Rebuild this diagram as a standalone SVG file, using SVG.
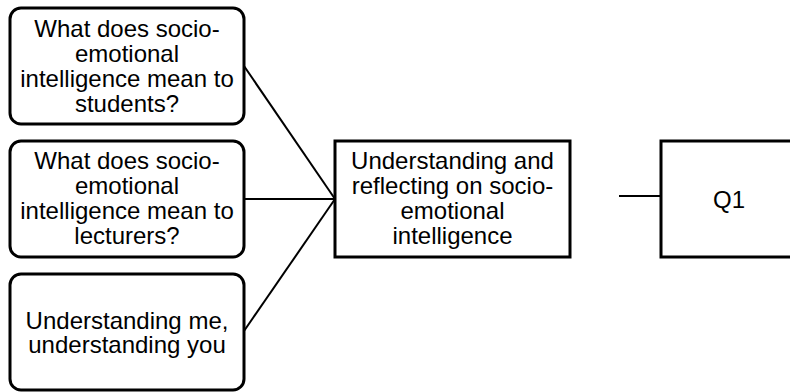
<svg xmlns="http://www.w3.org/2000/svg" width="790" height="392" viewBox="0 0 790 392">
<style>
.box{fill:#ffffff;stroke:#000000;stroke-width:3}
.conn{fill:none;stroke:#000000;stroke-width:2}
.lbl{font-family:"Liberation Sans",Arial,sans-serif;font-size:24px;fill:#000000;text-anchor:middle}
</style>
<rect width="790" height="392" fill="#ffffff"/>
<g id="connectors">
<line class="conn" x1="244" y1="66" x2="335" y2="199"/>
<line class="conn" x1="244" y1="199" x2="335" y2="199"/>
<line class="conn" x1="244" y1="331" x2="335" y2="199"/>
<line class="conn" x1="619" y1="196" x2="661" y2="196"/>
</g>
<g id="n1">
<rect class="box" x="10" y="8" width="234" height="116" rx="11" ry="11"/>
<text class="lbl"><tspan x="127" y="37">What does socio-</tspan><tspan x="127" y="61.9">emotional</tspan><tspan x="127" y="86.8">intelligence mean to</tspan><tspan x="127" y="111.7">students?</tspan></text>
</g>
<g id="n2">
<rect class="box" x="10" y="141" width="234" height="116" rx="11" ry="11"/>
<text class="lbl"><tspan x="127" y="168.8">What does socio-</tspan><tspan x="127" y="193.7">emotional</tspan><tspan x="127" y="218.6">intelligence mean to</tspan><tspan x="127" y="243.5">lecturers?</tspan></text>
</g>
<g id="n3">
<rect class="box" x="10" y="274" width="234" height="116" rx="11" ry="11"/>
<text class="lbl"><tspan x="127" y="328.5">Understanding me,</tspan><tspan x="127" y="353.4">understanding you</tspan></text>
</g>
<g id="n4">
<rect class="box" x="335" y="141" width="235" height="116"/>
<text class="lbl"><tspan x="452.5" y="168.8">Understanding and</tspan><tspan x="452.5" y="193.7">reflecting on socio-</tspan><tspan x="452.5" y="218.6">emotional</tspan><tspan x="452.5" y="243.5">intelligence</tspan></text>
</g>
<g id="n5">
<rect class="box" x="661" y="141" width="136" height="116"/>
<text class="lbl" x="729" y="207.5">Q1</text>
</g>
</svg>
